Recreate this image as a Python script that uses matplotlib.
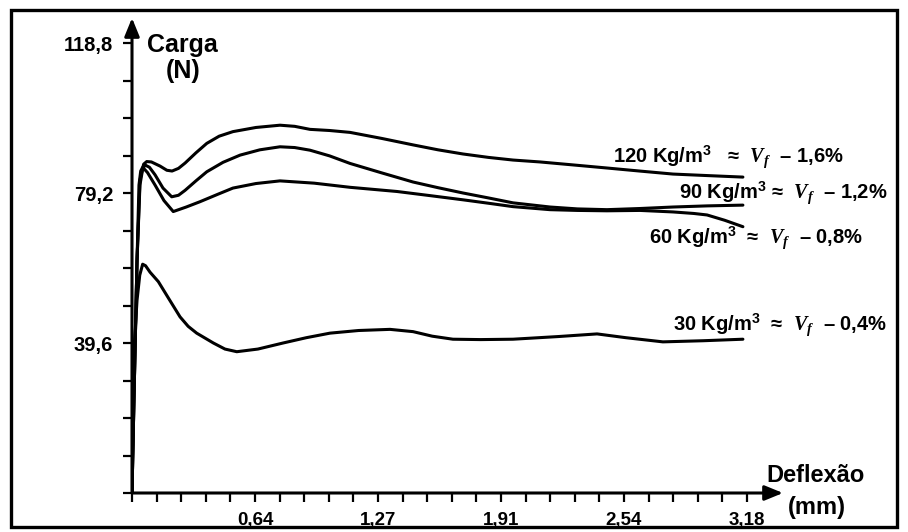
import matplotlib
matplotlib.use("Agg")
import matplotlib.pyplot as plt
from matplotlib.patches import Rectangle

plt.rcParams["font.family"] = ["Liberation Sans", "DejaVu Sans"]
plt.rcParams["font.weight"] = "bold"
plt.rcParams["mathtext.fontset"] = "custom"
plt.rcParams["mathtext.it"] = "Liberation Serif:italic"
plt.rcParams["mathtext.rm"] = "Liberation Serif"
plt.rcParams["mathtext.bf"] = "Liberation Sans:bold"

# deflexao (mm) / carga (N)
x_120 = [0, 0.010, 0.026, 0.041, 0.060, 0.076, 0.100, 0.145, 0.180, 0.207, 0.240, 0.274,
         0.330, 0.386, 0.450, 0.521, 0.640, 0.764, 0.840, 0.919, 1.020, 1.126, 1.290,
         1.451, 1.580, 1.709, 1.840, 1.967, 2.106, 2.280, 2.452, 2.620, 2.793, 2.970, 3.154]
y_120 = [0, 24.5, 61.5, 82.6, 86.8, 87.5, 87.4, 86.3, 85.2, 85.0, 85.7, 87.1,
         89.8, 92.3, 94.2, 95.4, 96.5, 97.1, 96.8, 96.0, 95.7, 95.2, 93.6,
         91.9, 90.6, 89.5, 88.6, 87.9, 87.4, 86.6, 85.8, 85.0, 84.2, 83.8, 83.4]

x_90 = [0, 0.010, 0.026, 0.041, 0.055, 0.067, 0.090, 0.119, 0.160, 0.205, 0.240, 0.274,
        0.330, 0.386, 0.470, 0.558, 0.660, 0.764, 0.840, 0.919, 1.020, 1.126, 1.290,
        1.451, 1.580, 1.709, 1.840, 1.967, 2.158, 2.300, 2.452, 2.620, 2.793, 2.970, 3.154]
y_90 = [0, 24.5, 61.5, 81.3, 85.5, 86.6, 86.0, 84.0, 80.5, 78.2, 78.6, 79.9,
        82.4, 84.8, 87.3, 89.2, 90.6, 91.4, 91.2, 90.5, 89.0, 87.0, 84.5,
        82.1, 80.6, 79.2, 77.9, 76.6, 75.5, 75.0, 74.8, 75.1, 75.5, 75.8, 76.0]

x_60 = [0, 0.010, 0.026, 0.036, 0.045, 0.055, 0.080, 0.119, 0.165, 0.213, 0.280, 0.351,
        0.440, 0.521, 0.640, 0.764, 0.940, 1.126, 1.368, 1.540, 1.709, 1.840, 1.967,
        2.158, 2.300, 2.452, 2.623, 2.793, 2.900, 2.969, 3.060, 3.154]
y_60 = [0, 24.5, 61.5, 81.3, 85.0, 86.0, 84.6, 81.3, 77.2, 74.3, 75.5, 76.9,
        78.8, 80.5, 81.7, 82.4, 81.8, 80.7, 79.6, 78.5, 77.4, 76.5, 75.6,
        74.8, 74.6, 74.5, 74.6, 74.2, 73.8, 73.4, 72.0, 70.3]

x_30 = [0, 0.005, 0.010, 0.026, 0.040, 0.055, 0.070, 0.093, 0.136, 0.190, 0.248, 0.290,
        0.334, 0.420, 0.480, 0.541, 0.650, 0.780, 0.900, 1.022, 1.170, 1.332, 1.451,
        1.550, 1.657, 1.800, 1.967, 2.200, 2.401, 2.550, 2.741, 2.950, 3.154]
y_30 = [0, 19.3, 37.7, 50.9, 57.5, 60.4, 60.0, 58.3, 55.8, 51.3, 46.5, 44.0,
        42.2, 39.6, 38.0, 37.3, 38.0, 39.6, 41.0, 42.2, 42.9, 43.2, 42.6,
        41.4, 40.6, 40.5, 40.6, 41.3, 42.0, 41.0, 39.9, 40.2, 40.6]

x_ticks = [0.127 * i for i in range(26)]
x_labels = {5: "0,64", 10: "1,27", 15: "1,91", 20: "2,54", 25: "3,18"}
y_ticks = [9.9 * i for i in range(13)]
y_labels = {4: "39,6", 8: "79,2", 12: "118,8"}

W, H = 908, 532
fig = plt.figure(figsize=(W / 100, H / 100), dpi=100)
ax = fig.add_axes([132 / W, 39 / H, (783 - 132) / W, (514 - 39) / H])
ax.set_xlim(0, 3.361)
ax.set_ylim(0, 125.4)
for s in ax.spines.values():
    s.set_visible(False)

for xs, ys in [(x_120, y_120), (x_90, y_90), (x_60, y_60), (x_30, y_30)]:
    ax.plot(xs, ys, color="black", lw=2.2, solid_joinstyle="round", solid_capstyle="round")

# axes with arrows
arrow = dict(arrowstyle="-|>,head_length=1.1,head_width=0.45", lw=2.2, color="black",
             shrinkA=0, shrinkB=0)
ax.annotate("", xy=(3.361, 0), xytext=(0, 0), arrowprops=arrow, annotation_clip=False)
ax.annotate("", xy=(0, 125.4), xytext=(0, 0), arrowprops=arrow, annotation_clip=False)

ax.set_xticks(x_ticks)
ax.set_xticklabels([x_labels.get(i, "") for i in range(len(x_ticks))])
ax.set_yticks(y_ticks)
ax.set_yticklabels([y_labels.get(i, "") for i in range(len(y_ticks))])
ax.tick_params(axis="both", direction="out", length=6.5, width=1.6, pad=7)
ax.tick_params(axis="x", labelsize=13.5)
ax.tick_params(axis="y", labelsize=14.5)

ax.text(0.258, 118.3, "Carga", fontsize=18, ha="center", va="center")
ax.text(0.263, 111.3, "(N)", fontsize=18, ha="center", va="center")
ax.text(3.531, 4.5, "Deflexão", fontsize=17, ha="center", va="center", clip_on=False)
ax.text(3.536, -3.7, "(mm)", fontsize=17, ha="center", va="center", clip_on=False)

lab = dict(fontsize=14.5, ha="left", va="center")
ax.text(2.483, 88.7, r"120 Kg/m$^{\mathbf{3}}$   ≈  $V_f$  – 1,6%", **lab)
ax.text(2.824, 79.2, r"90 Kg/m$^{\mathbf{3}}$ ≈  $V_f$  – 1,2%", **lab)
ax.text(2.669, 67.3, r"60 Kg/m$^{\mathbf{3}}$  ≈  $V_f$  – 0,8%", **lab)
ax.text(2.793, 44.4, r"30 Kg/m$^{\mathbf{3}}$  ≈  $V_f$  – 0,4%", **lab)

fig.patches.append(Rectangle((11 / W, 5 / H), 886 / W, 517 / H, transform=fig.transFigure,
                             fill=False, lw=2.4, edgecolor="black"))

fig.savefig("out.png", dpi=100)
